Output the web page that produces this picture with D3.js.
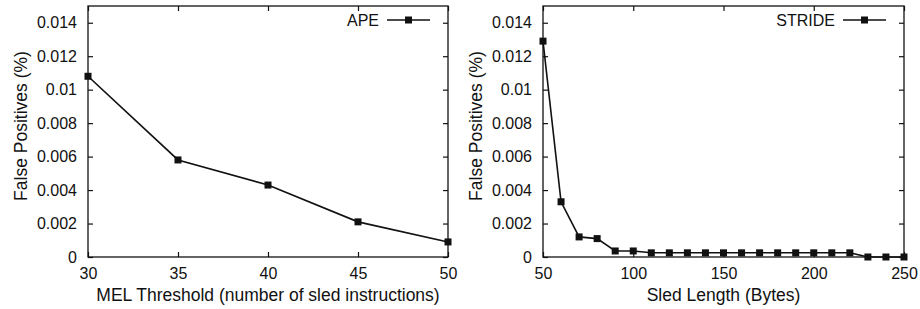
<!DOCTYPE html>
<html>
<head>
<meta charset="utf-8">
<script src="https://cdn.jsdelivr.net/npm/d3@7"></script>
<style>
  body { margin: 0; background: #fff; }
  svg { display: block; font-family: "Liberation Sans", Arial, sans-serif; }
</style>
</head>
<body>
<div id="canvas"></div>
<script>
// data
const apeX = [30, 35, 40, 45, 50];
const apeY = [0.0108, 0.0058, 0.0043, 0.0021, 0.0009];

const strideX = [50, 60, 70, 80, 90, 100, 110, 120, 130, 140, 150, 160, 170, 180, 190, 200, 210, 220, 230, 240, 250];
const strideY = [0.0129, 0.0033, 0.0012, 0.0011, 0.00036, 0.00036, 0.00025, 0.00025, 0.00025, 0.00025, 0.00025,
    0.00025, 0.00025, 0.00025, 0.00025, 0.00025, 0.00025, 0.00025, 0, 0, 0];

const yTicks = [0, 0.002, 0.004, 0.006, 0.008, 0.01, 0.012, 0.014];
const apeTicks = [30, 35, 40, 45, 50];
const strideTicks = [50, 100, 150, 200, 250];

const svg = d3.select('#canvas').append('svg')
    .attr('width', 920)
    .attr('height', 309);

function panel(opts) {
    const g = svg.append('g');
    const x = d3.scaleLinear().domain(opts.xDomain).range([opts.left, opts.right]);
    const y = d3.scaleLinear().domain([0, 0.015]).range([257, 6]);

    // inward ticks on all four sides (gnuplot style)
    g.append('g')
        .attr('transform', 'translate(0,' + y(0) + ')')
        .call(d3.axisBottom(x).tickValues(opts.xTicks).tickSizeInner(-5).tickSizeOuter(0).tickPadding(11))
        .call(a => a.select('.domain').remove());
    g.append('g')
        .attr('transform', 'translate(0,' + y(0.015) + ')')
        .call(d3.axisTop(x).tickValues(opts.xTicks).tickSizeInner(-5).tickSizeOuter(0).tickFormat(''))
        .call(a => a.select('.domain').remove());
    g.append('g')
        .attr('transform', 'translate(' + opts.left + ',0)')
        .call(d3.axisLeft(y).tickValues(yTicks).tickSizeInner(-5).tickSizeOuter(0).tickPadding(11)
            .tickFormat(d => d === 0 ? '0' : d3.format('')(+d.toFixed(3))))
        .call(a => a.select('.domain').remove());
    g.append('g')
        .attr('transform', 'translate(' + opts.right + ',0)')
        .call(d3.axisRight(y).tickValues(yTicks).tickSizeInner(-5).tickSizeOuter(0).tickFormat(''))
        .call(a => a.select('.domain').remove());

    g.selectAll('.tick line').attr('stroke', '#111').attr('stroke-width', 1.2);
    g.selectAll('.tick text').attr('fill', '#111').style('font-size', '16px');

    g.append('rect')
        .attr('x', opts.left)
        .attr('y', y(0.015))
        .attr('width', opts.right - opts.left)
        .attr('height', y(0) - y(0.015))
        .attr('fill', 'none')
        .attr('stroke', '#111')
        .attr('stroke-width', 1.3);

    const pts = opts.xs.map((v, i) => [v, opts.ys[i]]);
    g.append('path')
        .datum(pts)
        .attr('fill', 'none')
        .attr('stroke', '#111')
        .attr('stroke-width', 1.6)
        .attr('d', d3.line().x(d => x(d[0])).y(d => y(d[1])));

    g.selectAll('rect.mark')
        .data(pts)
        .enter()
        .append('rect')
        .attr('class', 'mark')
        .attr('x', d => x(d[0]) - 3.5)
        .attr('y', d => y(d[1]) - 3.5)
        .attr('width', 7)
        .attr('height', 7)
        .attr('fill', '#111');

    // legend
    const ly = 20;
    const lx1 = opts.right - 61, lx2 = opts.right - 18;
    g.append('line')
        .attr('x1', lx1).attr('x2', lx2).attr('y1', ly).attr('y2', ly)
        .attr('stroke', '#111').attr('stroke-width', 1.6);
    g.append('rect')
        .attr('x', (lx1 + lx2) / 2 - 3.5).attr('y', ly - 3.5)
        .attr('width', 7).attr('height', 7).attr('fill', '#111');
    g.append('text')
        .attr('x', lx1 - 8).attr('y', ly)
        .attr('dy', '0.35em')
        .attr('text-anchor', 'end')
        .style('font-size', '16px')
        .attr('fill', '#111')
        .text(opts.name);

    // axis titles
    g.append('text')
        .attr('x', (opts.left + opts.right) / 2)
        .attr('y', 301)
        .attr('text-anchor', 'middle')
        .style('font-size', '17.5px')
        .attr('fill', '#111')
        .text(opts.xTitle);
    g.append('text')
        .attr('transform', 'translate(' + (opts.left - 61) + ',126) rotate(-90)')
        .attr('text-anchor', 'middle')
        .style('font-size', '17.5px')
        .attr('fill', '#111')
        .text('False Positives (%)');
}

panel({
    left: 88, right: 448,
    xDomain: [30, 50], xTicks: apeTicks,
    xs: apeX, ys: apeY, name: 'APE',
    xTitle: 'MEL Threshold (number of sled instructions)'
});

panel({
    left: 543, right: 904,
    xDomain: [50, 250], xTicks: strideTicks,
    xs: strideX, ys: strideY, name: 'STRIDE',
    xTitle: 'Sled Length (Bytes)'
});
</script>
</body>
</html>
